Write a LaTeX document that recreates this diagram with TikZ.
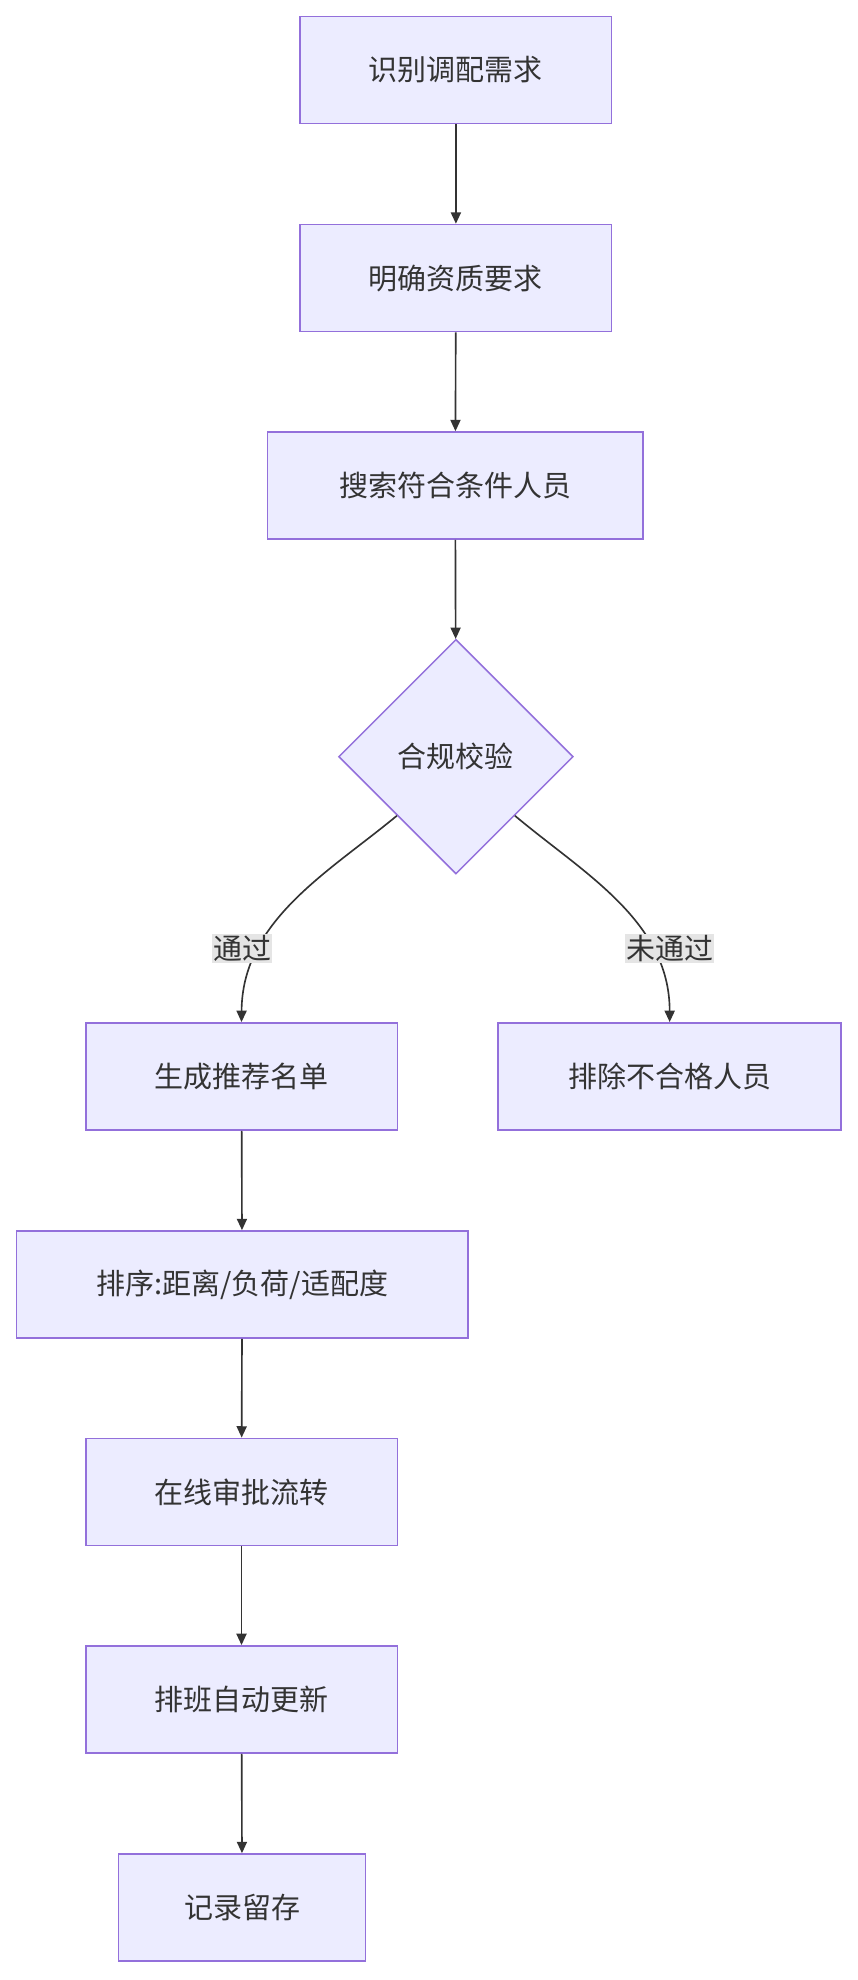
\documentclass[tikz,border=0pt]{standalone}
\usepackage{fontspec}
\setmainfont{Noto Sans CJK SC}
\usetikzlibrary{shapes.geometric,arrows.meta}
\definecolor{nfill}{HTML}{ECECFF}
\definecolor{nstroke}{HTML}{9370DB}
\definecolor{ln}{HTML}{333333}
\begin{document}
\begin{tikzpicture}[x=1pt,y=-1pt,
  box/.style={draw=nstroke,fill=nfill,line width=1.2pt,inner sep=0pt,minimum height=85pt,font=\fontsize{23}{28}\selectfont,text=ln},
  dia/.style={diamond,draw=nstroke,fill=nfill,line width=1.2pt,inner sep=0pt,minimum width=186pt,minimum height=186pt,font=\fontsize{23}{28}\selectfont,text=ln},
  arr/.style={draw=ln,line width=1.3pt,-{Triangle[length=9pt,width=8pt]}},
  lab/.style={fill=black!10,inner sep=1pt,font=\fontsize{23}{28}\selectfont,text=ln}]
\useasboundingbox (0,0) rectangle (680,1570);
\fill[white] (0,0) rectangle (680,1570);
\node[box,minimum width=247pt] (a) at (361.5,55.5) {识别调配需求};
\node[box,minimum width=247pt] (b) at (361.5,220.5) {明确资质要求};
\node[box,minimum width=298pt] (c) at (361,385) {搜索符合条件人员};
\node[dia] (d) at (361.5,600) {合规校验};
\node[box,minimum width=247pt] (e) at (191.5,853.5) {生成推荐名单};
\node[box,minimum width=272pt] (f) at (531,853.5) {排除不合格人员};
\node[box,minimum width=358pt] (g) at (192,1018.5) {排序:距离/负荷/适配度};
\node[box,minimum width=247pt] (h) at (191.5,1183) {在线审批流转};
\node[box,minimum width=247pt] (i) at (191.5,1347.5) {排班自动更新};
\node[box,minimum width=196pt] (j) at (192,1512.5) {记录留存};
\draw[arr] (a) -- (b);
\draw[arr] (b) -- (c);
\draw[arr] (c) -- (d);
\draw[arr] (d.south west) .. controls (260,692) and (192,730) .. (e.north);
\draw[arr] (d.south east) .. controls (462,692) and (531,730) .. (f.north);
\draw[arr] (e) -- (g);
\draw[arr] (g) -- (h);
\draw[arr] (h) -- (i);
\draw[arr] (i) -- (j);
\node[lab] (l1) at (192,752) {通过};
\node[lab] (l2) at (531,752) {未通过};
\end{tikzpicture}
\end{document}
